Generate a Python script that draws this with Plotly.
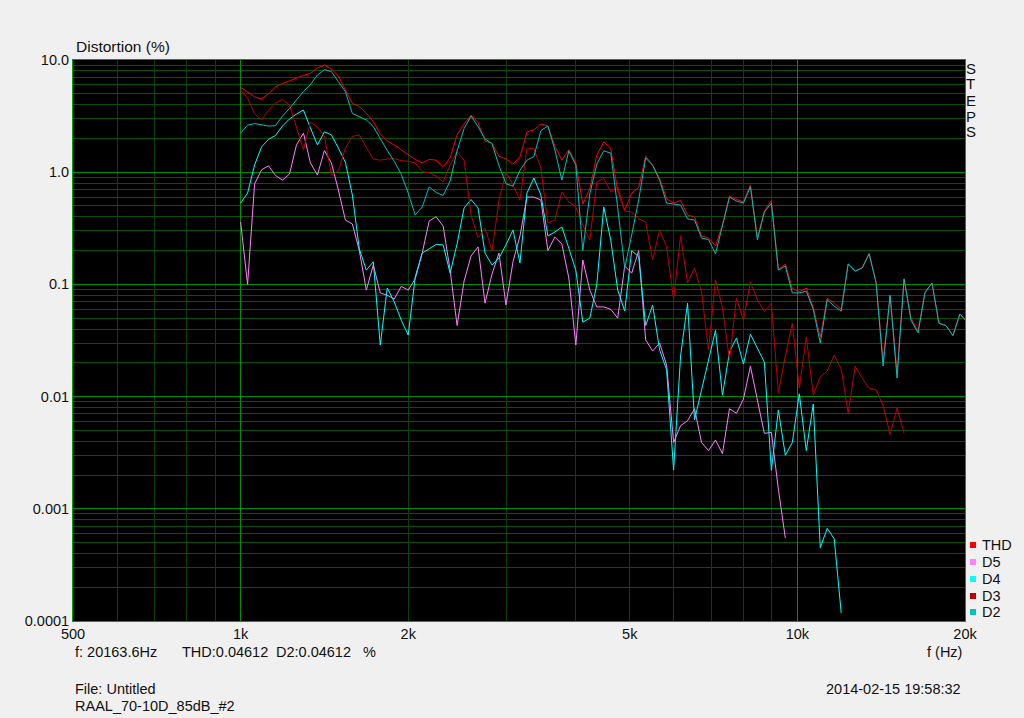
import plotly.graph_objects as go

# Frequency grid (Hz), 1/24 octave steps
freq_hz = [1000.0, 1029.3, 1059.5, 1090.5, 1122.5, 1155.4, 1189.2, 1224.1, 1259.9, 1296.8,
           1334.8, 1373.9, 1414.2, 1455.6, 1498.3, 1542.2, 1587.4, 1633.9, 1681.8, 1731.1,
           1781.8, 1834.0, 1887.7, 1943.1, 2000.0, 2058.6, 2119.0, 2181.0, 2245.0, 2310.8,
           2378.4, 2448.1, 2519.8, 2593.7, 2669.6, 2747.9, 2828.4, 2911.3, 2996.6, 3084.4,
           3174.8, 3267.8, 3363.6, 3462.1, 3563.6, 3668.0, 3775.5, 3886.1, 4000.0, 4117.2,
           4237.9, 4362.1, 4489.9, 4621.5, 4756.8, 4896.2, 5039.7, 5187.4, 5339.3, 5495.8,
           5656.9, 5822.6, 5993.2, 6168.8, 6349.6, 6535.6, 6727.2, 6924.3, 7127.2, 7336.0,
           7551.0, 7772.2, 8000.0, 8234.4, 8475.7, 8724.1, 8979.7, 9242.9, 9513.7, 9792.5,
           10079.4, 10374.8, 10678.8, 10991.7, 11313.7, 11645.3, 11986.5, 12337.7, 12699.2, 13071.4,
           13454.4, 13848.6, 14254.4, 14672.1, 15102.0, 15544.5, 16000.0, 16468.8, 16951.4, 17448.2,
           17959.4, 18485.7, 19027.3, 19584.9, 20163.6]

thd = [5.7, 5.2, 4.7, 4.5, 5.0, 5.75, 6.2, 6.5, 6.9, 7.3,
       7.6, 8.5, 9.0, 8.3, 7.2, 5.5, 4.1, 3.85, 3.37, 2.82,
       2.19, 1.9, 1.75, 1.58, 1.42, 1.3, 1.21, 1.3, 1.28, 1.12,
       1.34, 2.15, 2.69, 3.23, 2.77, 1.9, 1.81, 1.38, 1.32, 1.18,
       1.37, 2.29, 2.38, 2.69, 2.58, 1.71, 1.28, 1.58, 1.21, 0.52,
       0.71, 1.42, 1.86, 1.63, 0.68, 0.46, 0.65, 0.73, 1.39, 1.16,
       0.88, 0.58, 0.53, 0.56, 0.415, 0.40, 0.27, 0.26, 0.22, 0.34,
       0.61, 0.57, 0.54, 0.77, 0.26, 0.45, 0.56, 0.135, 0.152, 0.092,
       0.086, 0.093, 0.062, 0.034, 0.075, 0.068, 0.06, 0.153, 0.133, 0.141,
       0.19, 0.104, 0.021, 0.080, 0.0165, 0.112, 0.050, 0.038, 0.086, 0.103,
       0.045, 0.043, 0.035, 0.0545, 0.04612]

d5 = [0.36, 0.1, 0.785, 1.05, 1.14, 0.935, 0.85, 0.964, 1.75, 2.23,
      1.21, 0.944, 1.56, 1.21, 0.694, 0.375, 0.346, 0.20, 0.089, 0.149,
      0.084, 0.080, 0.074, 0.096, 0.089, 0.112, 0.19, 0.367, 0.401, 0.331,
      0.134, 0.043, 0.107, 0.179, 0.216, 0.068, 0.124, 0.19, 0.0655, 0.159,
      0.27, 0.60, 0.60, 0.565, 0.20, 0.264, 0.229, 0.114, 0.0288, 0.165,
      0.089, 0.063, 0.063, 0.060, 0.050, 0.146, 0.126, 0.20, 0.032, 0.0255,
      0.030, 0.0191, 0.0039, 0.0055, 0.0061, 0.0078, 0.0039, 0.0033, 0.0041, 0.0031,
      0.0078, 0.0071, 0.0095, 0.0187, 0.0093, 0.0047, 0.0048, 0.0015, 0.00055]

d4 = [0.531, 0.652, 1.16, 1.68, 1.96, 2.13, 2.58, 2.98, 3.3, 3.58,
      2.48, 1.75, 2.29, 2.15, 1.64, 1.23, 0.626, 0.207, 0.134, 0.159,
      0.0288, 0.093, 0.070, 0.048, 0.0354, 0.116, 0.19, 0.207, 0.227, 0.225,
      0.126, 0.23, 0.48, 0.571, 0.48, 0.19, 0.149, 0.172, 0.225, 0.306,
      0.155, 0.652, 0.888, 0.626, 0.27, 0.293, 0.325, 0.21, 0.134, 0.046,
      0.050, 0.099, 0.49, 0.249, 0.089, 0.058, 0.20, 0.176, 0.043, 0.0655,
      0.026, 0.0173, 0.00222, 0.023, 0.068, 0.0062, 0.0115, 0.0212, 0.039, 0.0103,
      0.025, 0.0333, 0.0195, 0.036, 0.027, 0.0203, 0.0022, 0.0076, 0.003, 0.0039,
      0.0106, 0.0033, 0.0086, 0.00045, 0.00067, 0.00054, 0.000118]

d3 = [5.4, 4.6, 3.3, 2.92, 3.58, 4.14, 4.45, 3.97, 2.53, 1.58,
      2.8, 2.53, 2.1, 0.94, 1.03, 1.64, 2.08, 2.15, 1.66, 1.31,
      1.28, 1.31, 1.32, 1.27, 1.25, 1.21, 1.01, 0.99, 0.925, 0.82,
      1.16, 1.53, 1.28, 0.415, 0.259, 0.318, 0.20, 0.565, 1.0, 0.77,
      0.565, 1.64, 1.62, 1.09, 0.352, 0.375, 0.666, 0.543, 0.49, 0.338,
      0.249, 0.818, 0.879, 0.673, 0.738, 0.451, 0.442, 0.383, 0.36, 0.165,
      0.306, 0.216, 0.074, 0.27, 0.103, 0.14, 0.086, 0.026, 0.11, 0.062,
      0.0212, 0.0757, 0.048, 0.105, 0.073, 0.057, 0.068, 0.0108, 0.023, 0.045,
      0.0119, 0.034, 0.0103, 0.015, 0.0169, 0.0235, 0.0176, 0.0071, 0.0187, 0.0146,
      0.0119, 0.0115, 0.0083, 0.0046, 0.0079, 0.0047]

d2 = [2.23, 2.63, 2.71, 2.63, 2.58, 2.6, 3.17, 3.7, 4.4, 5.24,
      6.05, 7.35, 8.2, 7.9, 6.4, 5.24, 3.34, 3.14, 2.92, 2.55,
      1.98, 1.56, 1.25, 0.96, 0.65, 0.415, 0.49, 0.74, 0.66, 0.62,
      0.835, 1.55, 2.45, 3.17, 2.55, 1.98, 1.8, 1.14, 0.79, 0.75,
      1.04, 1.28, 1.38, 2.35, 2.58, 1.58, 0.85, 1.55, 1.16, 0.20,
      0.64, 1.18, 1.55, 1.48, 0.48, 0.14, 0.276, 0.565, 1.34, 1.15,
      0.85, 0.53, 0.52, 0.51, 0.383, 0.375, 0.259, 0.251, 0.187, 0.331,
      0.60, 0.554, 0.53, 0.74, 0.25, 0.442, 0.53, 0.134, 0.146, 0.084,
      0.084, 0.087, 0.060, 0.030, 0.073, 0.064, 0.058, 0.152, 0.131, 0.14,
      0.187, 0.103, 0.0187, 0.080, 0.0146, 0.112, 0.048, 0.037, 0.084, 0.103,
      0.045, 0.043, 0.035, 0.0545, 0.04612]

series_names = ["THD", "D5", "D4", "D3", "D2"]
series_values = [thd, d5, d4, d3, d2]
series_colors = ["#FF0000", "#FF80FF", "#00FFFF", "#C00000", "#00C0C0"]

y_tick_vals = [0.0001, 0.001, 0.01, 0.1, 1, 10]
y_tick_text = ["0.0001", "0.001", "0.01", "0.1", "1.0", "10.0"]
x_tick_vals = [500, 1000, 2000, 5000, 10000, 20000]
x_tick_text = ["500", "1k", "2k", "5k", "10k", "20k"]
x_major_grid = [1000, 10000]
x_minor_grid = [600, 700, 800, 900, 2000, 3000, 4000, 5000, 6000, 7000, 8000, 9000]
y_minor_grid = [m * 10.0 ** e for e in range(-4, 1) for m in range(2, 10)]

W, H = 1024, 718
L, R, T, B = 73, 965, 60, 621
FONT = "Liberation Sans, Arial, sans-serif"
TXT = "#111111"
FS = 14.5


def px(x):
    return (x - L) / (R - L)


def py(y):
    return (B - y) / (B - T)


fig = go.Figure()
for name, vals, col in zip(series_names, series_values, series_colors):
    fig.add_trace(go.Scatter(x=freq_hz[:len(vals)], y=vals, mode="lines", name=name,
                             line=dict(color=col, width=1), showlegend=False,
                             hoverinfo="x+y+name"))
# empty helper trace so the overlaid grid axis (x2) is created
fig.add_trace(go.Scatter(x=[None], y=[None], xaxis="x2", yaxis="y", mode="none",
                         showlegend=False, hoverinfo="skip"))

annotations = []


def text(x, y, s, xanchor="left", size=FS):
    annotations.append(dict(x=px(x), y=py(y), xref="paper", yref="paper", text=s,
                            showarrow=False, xanchor=xanchor, yanchor="middle",
                            font=dict(family=FONT, size=size, color=TXT)))


text(74, 47, "Distortion (%)", size=15.5)
text(73, 652, "f: 20163.6Hz")
text(180, 652, "THD:0.04612")
text(274, 652, "D2:0.04612")
text(361, 652, "%")
text(964, 652, "f (Hz)", xanchor="right")
text(73, 689, "File: Untitled")
text(73, 706, "RAAL_70-10D_85dB_#2")
text(963, 689, "2014-02-15 19:58:32", xanchor="right")
for letter, yy in zip("STEPS", [68, 84, 100, 116, 132]):
    text(971, yy, letter, xanchor="center", size=15)

shapes = []
legend_y = [545, 562, 579, 596, 612]
for name, col, yy in zip(series_names, series_colors, legend_y):
    shapes.append(dict(type="rect", xref="paper", yref="paper",
                       x0=px(970), x1=px(976), y0=py(yy + 3), y1=py(yy - 3),
                       fillcolor=col, line=dict(width=0)))
    text(980, yy, name)

fig.update_layout(
    width=W, height=H,
    margin=dict(l=L, r=W - R, t=T, b=H - B, pad=0),
    paper_bgcolor="#F0F0F0", plot_bgcolor="#000000",
    font=dict(family=FONT, size=FS, color=TXT),
    showlegend=False,
    annotations=annotations, shapes=shapes,
    xaxis=dict(type="log", range=[2.69897, 4.30103], tickmode="array",
               tickvals=x_tick_vals, ticktext=x_tick_text, showgrid=False,
               ticks="", zeroline=False, showline=True, mirror=True,
               linecolor="#00A000", linewidth=1,
               tickfont=dict(family=FONT, size=FS, color=TXT)),
    xaxis2=dict(type="log", range=[2.69897, 4.30103], overlaying="x", anchor="y",
                side="top", tickmode="array", tickvals=x_major_grid, showticklabels=False,
                showgrid=True, gridcolor="#009000", gridwidth=1, ticks="",
                zeroline=False, showline=False,
                minor=dict(tickmode="array", tickvals=x_minor_grid, showgrid=True,
                           gridcolor="#0B3F0B", gridwidth=1, ticks="")),
    yaxis=dict(type="log", range=[-4, 1], tickmode="array", tickvals=y_tick_vals,
               ticktext=y_tick_text, showgrid=True, gridcolor="#009000", gridwidth=1,
               ticks="", zeroline=False, showline=True, mirror=True,
               linecolor="#00A000", linewidth=1,
               tickfont=dict(family=FONT, size=FS, color=TXT),
               minor=dict(tickmode="array", tickvals=y_minor_grid, showgrid=True,
                          gridcolor="#0A500A", gridwidth=1, ticks="")),
)

fig.write_html("out.html", config={"displayModeBar": False},
               post_script="document.body.style.margin='0px';document.body.style.padding='0px';")
